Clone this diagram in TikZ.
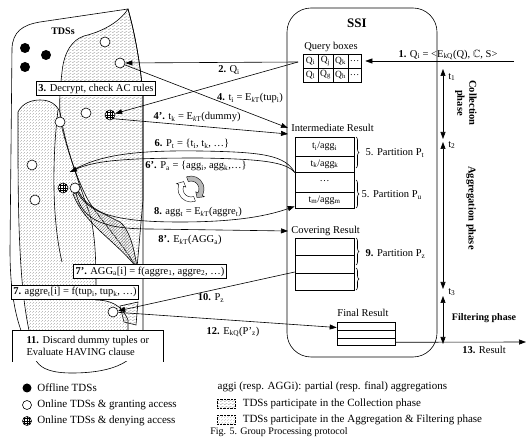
\documentclass[tikz,border=0pt]{standalone}
\usepackage{fontspec}
\setmainfont{Liberation Serif}
\usepackage{amssymb}
\usetikzlibrary{arrows.meta}
\usetikzlibrary{patterns}
\usetikzlibrary{decorations.pathreplacing}
\usetikzlibrary{positioning}
\newcommand{\ekt}{E\textsubscript{\textit{k}T}}
\newcommand{\ekq}{E\textsubscript{kQ}}
\pgfdeclarepatternformonly{colldash}{\pgfpoint{0pt}{0pt}}{\pgfpoint{4pt}{3pt}}{\pgfpoint{4pt}{3pt}}{%
  \pgfsetlinewidth{0.3pt}
  \pgfpathmoveto{\pgfpoint{0pt}{0.75pt}}\pgfpathlineto{\pgfpoint{2pt}{0.75pt}}
  \pgfpathmoveto{\pgfpoint{2pt}{2.25pt}}\pgfpathlineto{\pgfpoint{4pt}{2.25pt}}
  \pgfusepath{stroke}}
\pgfdeclarepatternformonly{aggdot}{\pgfpoint{-0.5pt}{-0.5pt}}{\pgfpoint{2.5pt}{2.5pt}}{\pgfpoint{3pt}{3pt}}{%
  \pgfpathcircle{\pgfpoint{0pt}{0pt}}{0.4pt}
  \pgfpathcircle{\pgfpoint{1.5pt}{1.5pt}}{0.4pt}
  \pgfusepath{fill}}

\begin{document}
\begin{tikzpicture}[x=1pt, y=-1pt, line width=0.6pt,
    font=\fontsize{10.5}{12}\selectfont,
    tdsoff/.style={circle, fill=black, minimum size=10pt, inner sep=0},
    tdson/.style={circle, draw, fill=white, minimum size=10pt, inner sep=0},
    tdsdeny/.style={tdson, path picture={
        \foreach \dd in {-2.5,0,2.5}{
          \draw[line width=0.35pt] ([xshift=\dd pt]path picture bounding box.north) -- ([xshift=\dd pt]path picture bounding box.south);
          \draw[line width=0.35pt] ([yshift=\dd pt]path picture bounding box.west) -- ([yshift=\dd pt]path picture bounding box.east);}}},
    stepbox/.style={draw, fill=white, inner sep=2pt},
    cell/.style={font=\fontsize{9.5}{10}\selectfont, inner sep=0},
    arrow/.style={>={Triangle[length=7pt, width=5pt]}},
    pre/.style={arrow, <-},
    post/.style={arrow, ->},
    partbrace/.style={decorate, decoration={brace, amplitude=3pt}},
    phase/.style={font=\fontsize{10.5}{12}\selectfont\bfseries, rotate=-90, align=center},
    colreg/.style={pattern=colldash, pattern color=black!65},
    aggreg/.style={pattern=aggdot, pattern color=black!40}
  ]
  \useasboundingbox (0,0) rectangle (528,438);

  % TDS cloud
  \draw[fill=white] (37,362) .. controls (18,335) and (10,300) .. (10,250) -- (12,48)
    .. controls (13,32) and (22,25) .. (40,22) -- (128,9) .. controls (134,30) and (140,60) .. (143,95)
    -- (143,330) .. controls (143,362) and (112,373) .. (72,373) .. controls (52,373) and (42,369) .. (37,362) -- cycle;
  \draw[colreg] (62,72) .. controls (64,52) and (72,40) .. (84,36) .. controls (100,32) and (118,24) .. (128,9)
    .. controls (134,30) and (140,60) .. (143,95) -- (143,200) -- (137,268)
    .. controls (120,240) and (100,220) .. (88,200) .. controls (80,185) and (70,160) .. (62,128)
    .. controls (58,110) and (60,90) .. (62,72) -- cycle;
  \draw[aggreg] (18,150) -- (18,112) .. controls (22,104) and (30,100) .. (40,100) .. controls (50,100) and (56,104) .. (60,112)
    .. controls (66,150) and (80,185) .. (90,215) .. controls (95,235) and (96,255) .. (96,290) -- (96,300)
    .. controls (110,300) and (122,305) .. (128,320) -- (128,335) -- (30,335) .. controls (22,300) and (18,250) .. (18,150) -- cycle;
  \draw (58,110) .. controls (52,160) and (52,220) .. (62,262);
  \draw[pattern=north east lines, pattern color=black!45] (73,194) .. controls (85,225) and (115,240) .. (137,268)
    .. controls (134,245) and (128,228) .. (120,222) .. controls (100,212) and (85,205) .. (79,192) -- cycle;
  \draw[colreg] (120,306) -- (138,302) -- (136,325) -- (124,322) -- cycle;
  \node[font=\bfseries] (tdslbl) at (63,31) {TDSs};

  % SSI
  \draw[rounded corners=24pt] (287,8) rectangle (437,357);
  \node[font=\fontsize{13}{14}\selectfont\bfseries] (ssi) at (357,23) {SSI};
  \node (qlbl) at (331,47) {Query boxes};
  \node[draw, minimum width=58pt, minimum height=28pt, inner sep=0] (qgrid) at (332,68) {};
  \foreach \x in {318,333,348} \draw (\x,54) -- (\x,82);
  \draw (303,68) -- (361,68);
  \foreach \txt/\cx/\cy [count=\n] in {Q\textsubscript{i}/310.5/61, Q\textsubscript{j}/325.5/61, Q\textsubscript{k}/340.5/61, \ldots/354.5/61,
      Q\textsubscript{l}/310.5/75, Q\textsubscript{g}/325.5/75, Q\textsubscript{h}/340.5/75, \ldots/354.5/75}
    \node[cell] (q\n) at (\cx,\cy) {\txt};

  \node[anchor=west, inner sep=3pt] (irlbl) at (288,128) {Intermediate Result};
  \node[draw, minimum width=59pt, minimum height=71pt, inner sep=0] (irtab) at (324.5,172.5) {};
  \foreach \y in {156,172,192} \draw (295,\y) -- (354,\y);
  \foreach \txt/\cy [count=\n] in {{t\textsubscript{i}/agg\textsubscript{i}}/146.5, {t\textsubscript{k}/agg\textsubscript{k}}/164,
      {\ldots}/181, {t\textsubscript{m}/agg\textsubscript{m}}/200}
    \node[cell, font=\fontsize{10}{11}\selectfont] (ir\n) at (324.5,\cy) {\txt};

  \node[anchor=west, inner sep=3pt] (crlbl) at (288,231) {Covering Result};
  \node[draw, minimum width=59pt, minimum height=52pt, inner sep=0] (crtab) at (324.5,264) {};
  \foreach \y in {255,273} \draw (295,\y) -- (354,\y);

  \node (frlbl) at (363,313) {Final Result};
  \node[draw, minimum width=58pt, minimum height=23pt, inner sep=0] (frtab) at (366,333.5) {};
  \foreach \y in {330,338} \draw (337,\y) -- (395,\y);

  \draw[partbrace] (356,137) -- (356,168);
  \draw[partbrace] (356,180) -- (356,208);
  \draw[partbrace] (356,238) -- (356,265);
  \draw[partbrace] (356,268) -- (356,290);
  \node[anchor=west] (ptt) at (362,153) {5. Partition P\textsubscript{t}};
  \node[anchor=west] (ptu) at (358,195) {5. Partition P\textsubscript{u}};
  \node[anchor=west] (ptz) at (362,254) {\textbf{9.} Partition P\textsubscript{z}};

  % phases
  \coordinate (tA) at (443,69);
  \coordinate (tB) at (443,139);
  \coordinate (tC) at (443,142);
  \coordinate (tD) at (443,289);
  \coordinate (tE) at (443,296);
  \coordinate (tF) at (443,344);
  \draw[arrow, <->] (tA) -- (tB);
  \draw[arrow, <->] (tC) -- (tD);
  \draw[arrow, <->] (tE) -- (tF);
  \node[anchor=west, inner sep=1pt] (t1) at (447,77) {t\textsubscript{1}};
  \node[anchor=west, inner sep=1pt] (t2) at (447,145) {t\textsubscript{2}};
  \node[anchor=west, inner sep=1pt] (t3) at (447,292) {t\textsubscript{3}};
  \node[phase] (colph) at (466,103) {Collection\\phase};
  \node[phase] (aggph) at (471,208) {Aggregation phase};
  \node[font=\bfseries] (filph) at (484,318) {Filtering phase};

  % TDSs
  \node[tdsoff] (o1) at (25,48) {};
  \node[tdsoff] (o2) at (46,55) {};
  \node[tdsoff] (o3) at (25,67) {};
  \node[tdson] (c1) at (105,42) {};
  \node[tdson] (c2) at (120,63) {};
  \node[tdson] (c3) at (86,113) {};
  \node[tdson] (c4) at (60,122) {};
  \node[tdson] (c5) at (32,165) {};
  \node[tdson] (c6) at (35,200) {};
  \node[tdson] (agg) at (75,188) {};
  \node[tdson] (filt) at (113,312) {};
  \node[tdsdeny] (d1) at (110,115) {};
  \node[tdsdeny] (d2) at (63,188) {};

  % messages
  \coordinate (qsrc) at (514,61);
  \coordinate (qin) at (298,62);
  \coordinate (ptip) at (70,172);
  \coordinate (resend) at (526,342);
  \draw[post, shorten >=4pt] (qsrc) -- (qgrid.east |- qsrc);
  \node (m1) at (448,55) {\textbf{1.} Q\textsubscript{i} = <\ekq(Q), $\mathbb{C}$, S>};
  \draw[post] (qin) -- (c2);
  \draw[post] (qin) -- (d1);
  \node (m2) at (229,70) {\textbf{2.} Q\textsubscript{i}};
  \draw[post] (c2) -- (irlbl.west);
  \node (m4) at (250,98) {\textbf{4.} t\textsubscript{i} = \ekt(tup\textsubscript{i})};
  \draw[post] (d1.south east) -- ([yshift=-6pt]irlbl.west);
  \node (m4b) at (197,117) {\textbf{4'.} t\textsubscript{k} = \ekt(dummy)};
  \draw (irtab.west) .. controls (285,155) and (262,152) .. (200,151) .. controls (130,150) and (96,156) .. (ptip);
  \draw[post] (irtab.west) .. controls (286,162) and (262,159) .. (200,158) .. controls (130,158) and (96,160) .. (ptip);
  \node (m6) at (192,144) {\textbf{6.} P\textsubscript{t} = \{t\textsubscript{i}, t\textsubscript{k}, \ldots\}};
  \node (m6b) at (196,166) {\textbf{6'.} P\textsubscript{a} = \{agg\textsubscript{i}, agg\textsubscript{k},\ldots\}};
  \draw[post] (agg) .. controls (90,215) and (120,222) .. (180,222) .. controls (240,222) and (270,215) .. ([yshift=2pt]irtab.south west);
  \node (m8) at (198,212) {\textbf{8.} agg\textsubscript{t} = \ekt(aggre\textsubscript{t})};
  \draw[post] (agg) .. controls (82,222) and (108,229) .. (150,229) -- (crlbl.west);
  \node (m8b) at (190,240) {\textbf{8'.} \ekt(AGG\textsubscript{a})};
  \draw[post] ([yshift=-8pt]crtab.west) -- (filt);
  \node (m10) at (211,298) {\textbf{10.} P\textsubscript{z}};
  \draw[post] (filt) -- ([yshift=6pt]frtab.west);
  \node (m12) at (233,332) {\textbf{12.} \ekq(P'\textsubscript{z})};
  \draw[post] ([yshift=3pt]frtab.south east) -- (resend);
  \node (m13) at (484,350) {\textbf{13.} Result};

  % swap icon
  \begin{scope}[shift={(191,189)}]
    \filldraw[fill=gray!55, line width=0.4pt] (-110:13) arc[start angle=-110, end angle=30, radius=13]
      -- (30:15.5) -- (55:10.5) -- (30:5.5) -- (30:8) arc[start angle=30, end angle=-110, radius=8] -- cycle;
    \filldraw[fill=white, line width=0.4pt] (70:13) arc[start angle=70, end angle=200, radius=13]
      -- (200:15.5) -- (225:10.5) -- (200:5.5) -- (200:8) arc[start angle=200, end angle=70, radius=8] -- cycle;
  \end{scope}

  % step boxes
  \node[stepbox] (s3) at (96,88.5) {\textbf{3.} Decrypt, check AC rules};
  \node[stepbox] (s7b) at (150,271.5) {\textbf{7'.} AGG\textsubscript{a}[i] = f(aggre\textsubscript{1}, aggre\textsubscript{2}, \ldots)};
  \node[stepbox] (s7) at (75,292) {\textbf{7.} aggre\textsubscript{t}[i] = f(tup\textsubscript{i}, tup\textsubscript{k}, \ldots)};
  \node[fill=white, align=left, inner sep=2pt, minimum height=31pt, minimum width=151pt, anchor=north west] (s11) at (12,330)
    {\textbf{11.} Discard dummy tuples or\\Evaluate HAVING clause};
  \draw (s11.south west) -- (s11.north west) -- (s11.north east) -- (s11.south east);

  % legend
  \node[tdsoff, minimum size=9pt] (lgoff) at (27,388) {};
  \node[tdson, minimum size=9pt] (lgon) at (27,405) {};
  \node[tdsdeny, minimum size=9pt] (lgden) at (27,421) {};
  \node[right=2pt of lgoff, font=\fontsize{11}{12}\selectfont] (lgofft) {Offline TDSs};
  \node[right=2pt of lgon, font=\fontsize{11}{12}\selectfont] (lgont) {Online TDSs \& granting access};
  \node[right=2pt of lgden, font=\fontsize{11}{12}\selectfont] (lgdent) {Online TDSs \& denying access};
  \node[anchor=west, font=\fontsize{11}{12}\selectfont] (lgagg) at (214,387) {aggi (resp. AGGi): partial (resp. final) aggregations};
  \node[draw, densely dotted, line width=0.4pt, colreg, minimum width=18pt, minimum height=9pt, inner sep=0] (lgcol) at (226,404) {};
  \node[draw, densely dotted, line width=0.4pt, aggreg, minimum width=18pt, minimum height=9pt, inner sep=0] (lgagf) at (226,420) {};
  \node[right=4pt of lgcol, font=\fontsize{11}{12}\selectfont] (lgcolt) {TDSs participate in the Collection phase};
  \node[right=4pt of lgagf, font=\fontsize{11}{12}\selectfont] (lgagft) {TDSs participate in the Aggregation \& Filtering phase};
  \node[anchor=base, font=\fontsize{10}{11}\selectfont] (cap) at (279,435) {Fig. 5. Group Processing protocol};
\end{tikzpicture}
\end{document}
